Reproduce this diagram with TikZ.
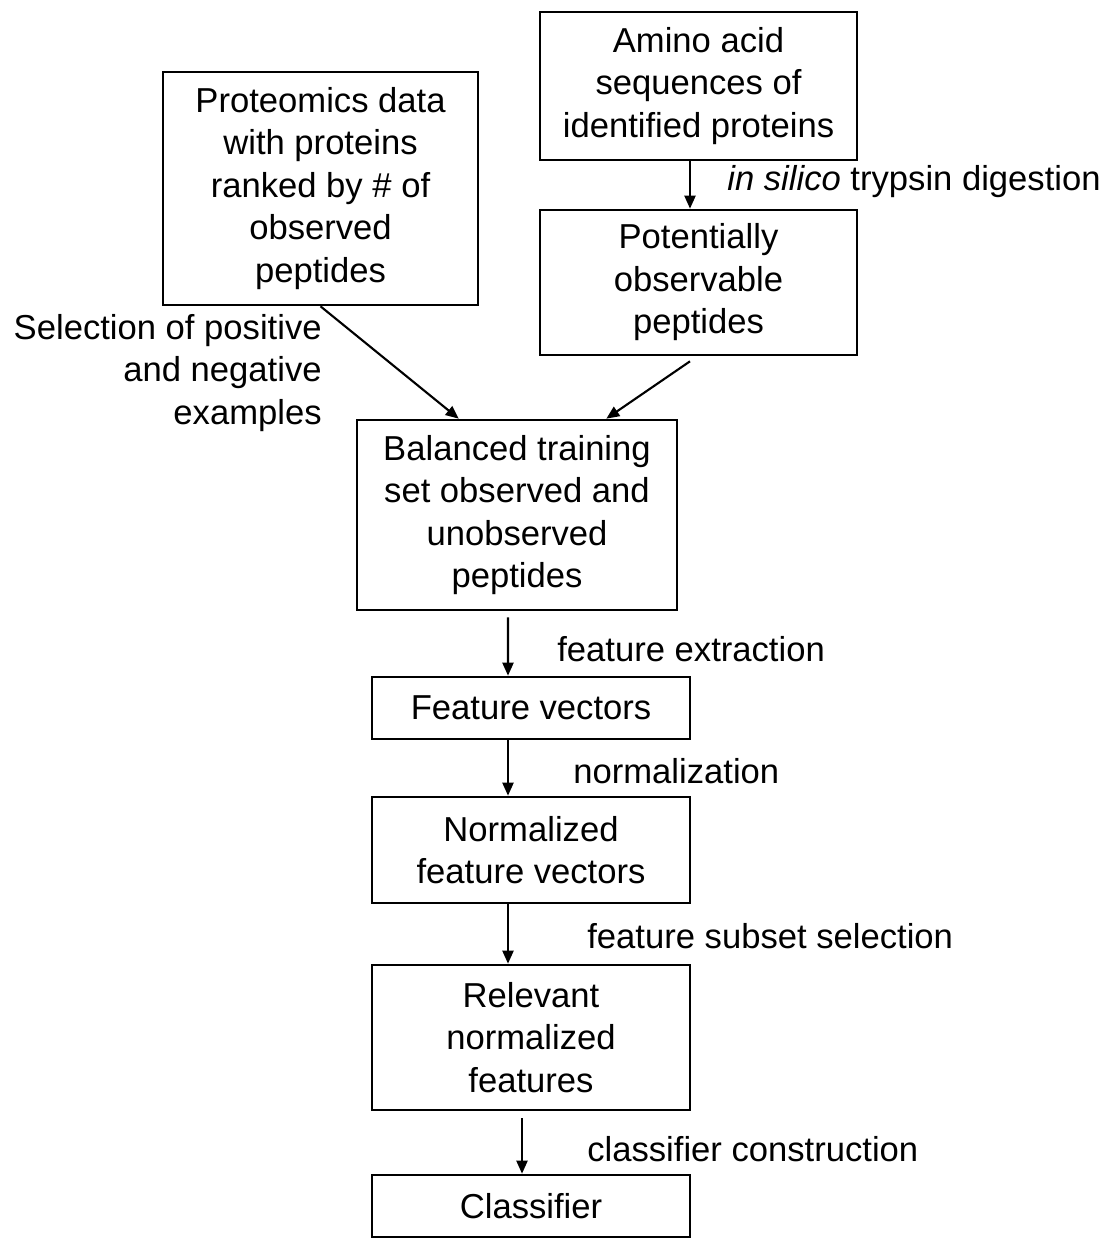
\documentclass[tikz,border=0pt]{standalone}
\usepackage{fontspec}
\setsansfont{Liberation Sans}
\usepackage{tikz}
\usetikzlibrary{positioning, arrows.meta}

\begin{document}
\begin{tikzpicture}[
    font=\sffamily\fontsize{19.7}{24.2}\selectfont,
    box/.style={draw=black, line width=1.5pt, align=center, inner sep=0pt},
    arr/.style={line width=1.2pt, -{Triangle[length=0.26cm, width=0.22cm]}},
    lbl/.style={inner sep=0pt, anchor=west}
]

% --- Area del disegno ---
\useasboundingbox (0,0) rectangle (22.18,-24.78);

% --- Riquadri in alto ---
\node[box, minimum width=6.3cm, minimum height=4.66cm] (prot) at (6.41,-3.77)
    {Proteomics data\\with proteins\\ranked by \# of\\observed\\peptides};
\node[box, minimum width=6.34cm, minimum height=2.96cm] (amino) at (13.97,-1.72)
    {Amino acid\\sequences of\\identified proteins};
\node[box, minimum width=6.34cm, minimum height=2.9cm] (pot) at (13.97,-5.65)
    {Potentially\\observable\\peptides};

% --- Insieme di addestramento ---
\node[box, minimum width=6.4cm, minimum height=3.8cm] (bal) at (10.34,-10.3)
    {Balanced training\\set observed and\\unobserved\\peptides};

% --- Catena verticale ---
\node[box, minimum width=6.36cm, minimum height=1.24cm] (fv) at (10.62,-14.16)
    {Feature vectors};
\node[box, minimum width=6.36cm, minimum height=2.12cm] (nfv) at (10.62,-17.0)
    {Normalized\\feature vectors};
\node[box, minimum width=6.36cm, minimum height=2.9cm] (rel) at (10.62,-20.75)
    {Relevant\\normalized\\features};
\node[box, minimum width=6.36cm, minimum height=1.24cm] (cls) at (10.62,-24.12)
    {Classifier};

% --- Frecce ---
\draw[arr] ([xshift=-0.17cm]amino.south) -- ([xshift=-0.17cm]pot.north);
\draw[arr] (prot.south) -- ([xshift=2.06cm]bal.north west);
\draw[arr] ([xshift=-0.17cm, yshift=-0.1cm]pot.south) -- ([xshift=-1.44cm]bal.north east);
\draw[arr] ([xshift=-0.18cm, yshift=-0.12cm]bal.south) -- ([xshift=-0.46cm]fv.north);
\draw[arr] ([xshift=-0.46cm]fv.south) -- ([xshift=-0.46cm]nfv.north);
\draw[arr] ([xshift=-0.46cm]nfv.south) -- ([xshift=-0.46cm]rel.north);
\draw[arr] ([xshift=-0.18cm, yshift=-0.14cm]rel.south) -- ([xshift=-0.18cm]cls.north);

% --- Etichette delle frecce ---
\node[lbl] (digest) at (14.54,-3.64) {\textit{in silico} trypsin digestion};
\node[lbl, anchor=east, align=right] (select) at (6.44,-7.46)
    {Selection of positive\\and negative\\examples};
\node[lbl] (extract) at (11.14,-12.98) {feature extraction};
\node[lbl] (norm) at (11.46,-15.42) {normalization};
\node[lbl] (subset) at (11.74,-18.72) {feature subset selection};
\node[lbl] (build) at (11.74,-22.98) {classifier construction};

\end{tikzpicture}
\end{document}
